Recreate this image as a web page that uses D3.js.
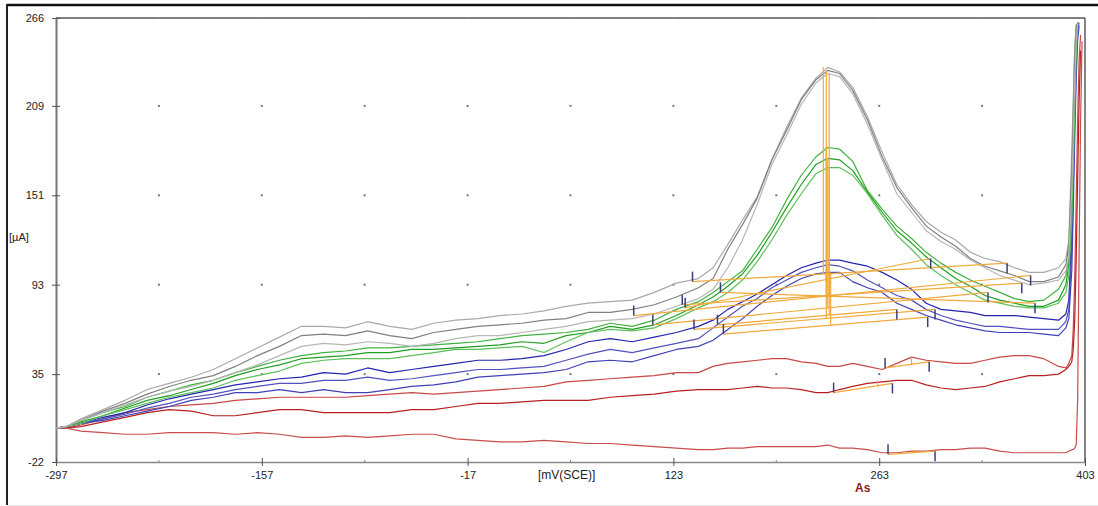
<!DOCTYPE html>
<html>
<head>
<meta charset="utf-8">
<script src="https://cdn.jsdelivr.net/npm/d3@7"></script>
<style>
  html, body { margin: 0; padding: 0; background: #fff; }
  svg { display: block; }
  text { font-family: Arial, "Liberation Sans", sans-serif; }
</style>
</head>
<body>
<svg id="chart" width="1098" height="506"></svg>
<script>
// Potential axis sample points (mV vs SCE), shared by all scans
const potentials = [-297,-290,-280,-265,-250,-235,-220,-205,-190,-175,-160,-145,-130,-115,-100,-85,-70,-55,-40,-25,-10,5,20,35,50,65,80,95,110,125,140,150,160,170,180,190,200,210,220,228,236,245,255,265,275,285,295,305,315,325,335,345,355,365,375,385,390,392,394,395,396,397,398,399,400,401];

// Current (µA) of each scan at the potentials above
const gray1 = [0,1,6,12,18,25,29,33,38,45,52,59,66,66,65,69,66,64,68,70,71,73,74,76,79,81,82,83,88,94,97,104,119,135,150,174,195,214,227,234,231,221,202,179,158,145,134,127,122,114,110,108,104,101,101,104,110,122,180,213,245,261,null,null,null,null];
const gray2 = [0,1,5,11,16,22,27,31,34,40,47,53,60,61,60,63,60,58,62,64,66,67,68,70,71,75,75,77,80,85,91,97,116,132,149,174,193,213,226,232,230,219,200,176,156,143,131,124,118,110,105,102,99,95,95,98,106,119,167,200,239,258,263,null,null,null];
const gray3 = [0,1,5,10,15,20,24,27,31,36,41,47,53,55,54,56,55,53,55,58,60,60,62,64,66,69,70,71,74,79,84,90,104,122,145,171,190,210,224,230,228,217,197,174,152,140,128,121,116,109,104,99,96,93,94,96,102,112,154,187,226,252,262,null,null,null];
const green1 = [0,1,5,10,14,20,24,28,31,36,40,44,47,49,50,52,52,53,54,55,56,58,60,61,62,64,68,66,70,77,82,88,95,102,116,130,148,164,176,182,181,173,154,142,131,123,114,107,101,96,92,88,84,82,83,90,99,112,161,206,245,262,null,null,null,null];
const green2 = [0,1,4,8,13,18,21,25,29,34,38,41,45,46,47,49,49,51,51,52,53,54,56,55,60,62,66,64,67,73,80,85,92,100,112,127,143,158,171,175,174,167,153,140,128,120,111,104,97,92,86,83,81,79,79,83,93,106,148,180,219,252,261,null,null,null];
const green3 = [0,1,3,8,12,16,20,23,26,31,34,37,42,44,45,45,45,47,49,51,51,52,53,49,56,62,64,63,65,71,78,82,88,96,108,122,138,152,165,169,169,164,152,138,125,116,106,99,93,88,83,81,79,78,78,81,88,99,135,167,206,242,260,null,null,null];
const blue1 = [0,1,3,7,10,15,19,22,25,28,30,32,33,36,35,39,36,38,40,42,44,44,45,47,51,56,58,56,59,62,66,70,77,82,87,93,99,104,107,109,109,107,105,101,96,90,81,77,76,75,73,73,73,72,71,70,74,83,128,167,213,248,263,null,null,null];
const blue2 = [0,1,3,6,9,13,16,20,22,25,27,29,29,31,31,33,31,32,34,36,38,38,39,40,44,48,51,49,52,55,58,65,72,79,84,91,96,101,104,106,105,102,96,91,86,83,77,73,70,68,66,66,65,64,64,64,69,77,116,154,200,239,258,263,null,null];
const blue3 = [0,1,3,5,8,11,14,18,20,23,23,25,23,25,23,23,25,27,28,30,33,34,35,36,38,43,44,43,47,51,53,57,64,71,79,86,92,97,100,101,101,95,91,88,81,77,73,70,67,65,63,62,62,62,61,60,65,71,102,142,187,226,252,261,null,null];
const red1 = [0,0,2,6,10,12,14,15,16,18,19,20,20,20,20,21,22,23,22,23,24,25,26,27,30,31,32,33,34,36,36,40,42,43,44,45,45,43,42,40,40,42,40,38,42,46,44,43,42,42,44,46,47,47,45,40,39,42,47,64,96,148,200,239,255,null];
const red2 = [0,0,1,4,7,10,12,11,8,8,10,12,12,10,10,10,10,12,12,14,16,16,17,18,18,18,20,21,22,24,25,25,25,26,27,26,26,25,23,23,25,27,29,30,31,31,28,26,25,26,27,30,32,34,34,35,38,40,43,51,70,109,161,213,245,null];
const red3 = [0,0,-2,-3,-4,-4,-3,-3,-3,-4,-3,-4,-6,-6,-5,-6,-5,-4,-4,-7,-8,-9,-9,-8,-9,-10,-10,-11,-12,-13,-14,-14,-13,-13,-12,-12,-12,-12,-12,-11,-13,-13,-14,-16,-16,-15,-15,-14,-14,-13,-13,-15,-16,-16,-16,-16,-16,-15,-14,-14,-13,-11,18,115,200,251];

// Peak evaluation: baseline end points and peak apex for each scan (same order as scans below)
const baseStartMv = [136, 96, 129, 131, 109, 155, 137, 153, 157, 267, 232, 269];
const baseStartUa = [95, 73, 80, 78, 67, 88, 64, 67, 61, 39, 23, -17];
const baseEndMv   = [350, 366, 360, 298, 337, 369, 301, 275, 296, 297, 272, 301];
const baseEndUa   = [107, 99, 94, 110, 88, 81, 77, 77, 72, 43, 29, -15];
const peakMv      = [225, 227, 229, 227, 228, 229, 227, 229, 230, 285, 262, 287];
const peakUa      = [234, 232, 230, 182, 175, 169, 109, 106, 101, 46, 31, -14];

// Axis ticks
const yTickValues = [-22, 35, 93, 151, 209, 266];
const xTickValues = [-297, -157, -17, 123, 263, 403];
const xMinorValues = [-227, -87, 53, 193, 333];

const scans = [
  { values: gray1,  color: "#a9a9a9" },
  { values: gray2,  color: "#808080" },
  { values: gray3,  color: "#b6b6b6" },
  { values: green1, color: "#3fb23f" },
  { values: green2, color: "#1f9f1f" },
  { values: green3, color: "#5cbf5c" },
  { values: blue1,  color: "#2424b0" },
  { values: blue2,  color: "#5252bf" },
  { values: blue3,  color: "#4040b8" },
  { values: red1,   color: "#c84848" },
  { values: red2,   color: "#b82020" },
  { values: red3,   color: "#c94d4d" }
];

const svg = d3.select("#chart");
const x = d3.scaleLinear().domain([-297, 403]).range([56, 1085]);
const y = d3.scaleLinear().domain([-22, 266]).range([462, 18]);

// window frame
svg.append("line").attr("x1", 7).attr("x2", 1098).attr("y1", 5).attr("y2", 5)
  .attr("stroke", "#111").attr("stroke-width", 2.5);
svg.append("line").attr("x1", 7).attr("x2", 7).attr("y1", 4).attr("y2", 505)
  .attr("stroke", "#222").attr("stroke-width", 2);
svg.append("line").attr("x1", 7).attr("x2", 1098).attr("y1", 505.5).attr("y2", 505.5)
  .attr("stroke", "#e4e4e4").attr("stroke-width", 1);

// grid dots
const dotX = [...xTickValues, ...xMinorValues].filter(v => v > -297 && v < 403);
const dotY = [35, 93, 151, 209];
const dots = svg.append("g");
dotX.forEach(gx => dotY.forEach(gy => {
  dots.append("rect").attr("x", x(gx) - 1).attr("y", y(gy) - 1)
    .attr("width", 2).attr("height", 2).attr("fill", "#777");
}));

// plot frame: top and right edges
svg.append("line").attr("x1", x(-297)).attr("x2", x(403)).attr("y1", y(266)).attr("y2", y(266))
  .attr("stroke", "#555").attr("stroke-width", 1.5);
svg.append("line").attr("x1", x(403)).attr("x2", x(403)).attr("y1", y(266)).attr("y2", y(-22))
  .attr("stroke", "#333").attr("stroke-width", 1.2);
dotX.forEach(gx => {
  svg.append("rect").attr("x", x(gx) - 1).attr("y", y(266) - 1)
    .attr("width", 2).attr("height", 2).attr("fill", "#888");
});

// y axis
const yAxis = svg.append("g").attr("transform", `translate(${x(-297)},0)`)
  .call(d3.axisLeft(y).tickValues(yTickValues).tickSize(4).tickSizeOuter(0).tickPadding(8)
    .tickFormat(d => String(d)));
yAxis.select(".domain").attr("stroke", "#777").attr("stroke-width", 2);
yAxis.selectAll(".tick line").attr("stroke", "#555");
yAxis.selectAll(".tick").append("line").attr("x1", 0).attr("x2", 4).attr("stroke", "#555");
yAxis.selectAll("text").attr("font-size", 11).attr("fill", "#222");

// x axis
const xAxis = svg.append("g").attr("transform", `translate(0,${y(-22)})`)
  .call(d3.axisBottom(x).tickValues(xTickValues).tickSize(4).tickSizeOuter(0).tickPadding(5)
    .tickFormat(d => String(d)));
xAxis.select(".domain").attr("stroke", "#888").attr("stroke-width", 1.5);
xAxis.selectAll(".tick line").attr("stroke", "#555");
xAxis.selectAll(".tick").append("line").attr("y1", 0).attr("y2", -4).attr("stroke", "#555");
xAxis.selectAll("text").attr("font-size", 11).attr("fill", "#222");
xMinorValues.forEach(v => {
  xAxis.append("line").attr("x1", x(v)).attr("x2", x(v)).attr("y1", -2).attr("y2", 1)
    .attr("stroke", "#888");
});

// axis titles
svg.append("text").attr("x", 9).attr("y", 241).attr("font-size", 11).attr("fill", "#222").text("[µA]");
svg.append("text").attr("x", 538).attr("y", 479).attr("font-size", 12).attr("fill", "#222").text("[mV(SCE)]");
svg.append("text").attr("x", 855).attr("y", 492).attr("font-size", 12).attr("font-weight", "bold")
  .attr("fill", "#8b1c1c").text("As");

// scans
const line = d3.line()
  .defined(d => d !== null)
  .x((d, i) => x(potentials[i]))
  .y(d => y(d));

const drawOrder = [9, 10, 11, 6, 7, 8, 3, 4, 5, 0, 1, 2];
const curves = svg.append("g");
drawOrder.forEach(k => {
  curves.append("path")
    .attr("d", line(scans[k].values))
    .attr("fill", "none")
    .attr("stroke", scans[k].color)
    .attr("stroke-width", 1.2)
    .attr("stroke-linejoin", "round");
});

// peak baselines and peak heights
const evalG = svg.append("g");
baseStartMv.forEach((s, k) => {
  const e = baseEndMv[k];
  evalG.append("line")
    .attr("x1", x(s)).attr("y1", y(baseStartUa[k]))
    .attr("x2", x(e)).attr("y2", y(baseEndUa[k]))
    .attr("stroke", "#f2a93b").attr("stroke-width", 1.2);
  const t = (peakMv[k] - s) / (e - s);
  const baseAtPeak = baseStartUa[k] + t * (baseEndUa[k] - baseStartUa[k]);
  evalG.append("line")
    .attr("x1", x(peakMv[k])).attr("x2", x(peakMv[k]))
    .attr("y1", y(baseAtPeak)).attr("y2", y(peakUa[k]))
    .attr("stroke", "#f2a93b").attr("stroke-width", 1.2);
});

// baseline end markers
baseStartMv.forEach((s, k) => {
  evalG.append("line")
    .attr("x1", x(s)).attr("x2", x(s))
    .attr("y1", y(baseStartUa[k]) - 10).attr("y2", y(baseStartUa[k]))
    .attr("stroke", "#3d3d7c").attr("stroke-width", 1.5);
  evalG.append("line")
    .attr("x1", x(baseEndMv[k])).attr("x2", x(baseEndMv[k]))
    .attr("y1", y(baseEndUa[k])).attr("y2", y(baseEndUa[k]) + 10)
    .attr("stroke", "#3d3d7c").attr("stroke-width", 1.5);
});
</script>
</body>
</html>
